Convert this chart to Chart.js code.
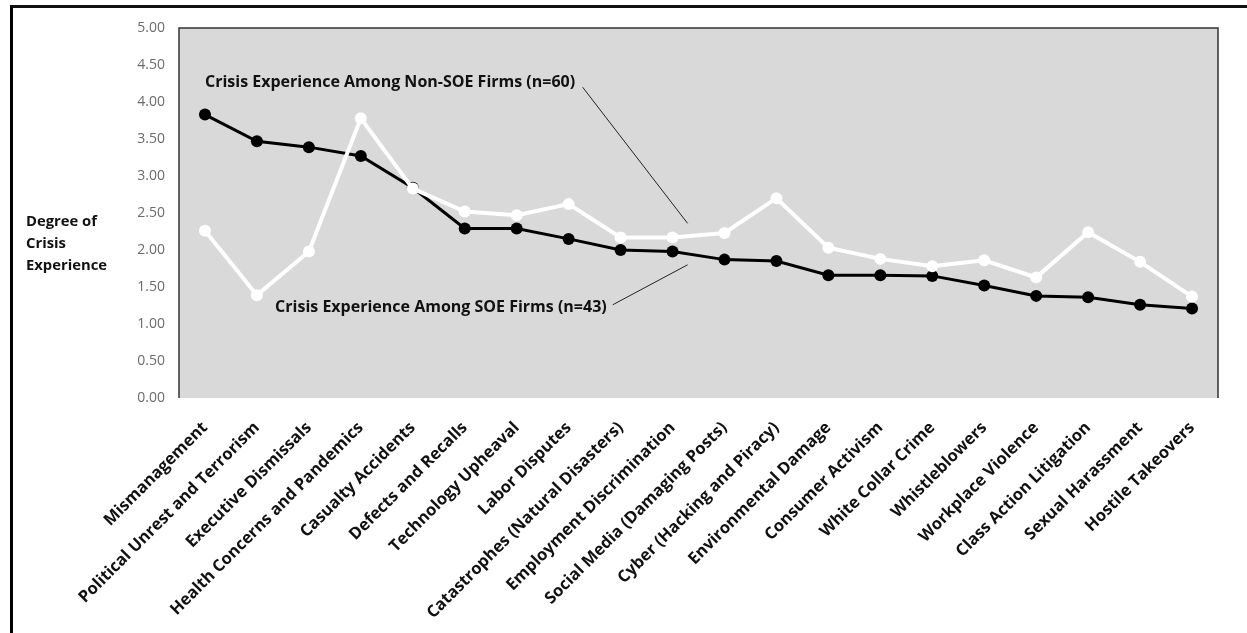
<!DOCTYPE html>
<html>
<head>
<meta charset="utf-8">
<script src="https://cdn.jsdelivr.net/npm/chart.js@4/dist/chart.umd.min.js"></script>
<style>
  html, body { margin: 0; padding: 0; background: #fff; }
  #wrap { position: relative; width: 1247px; height: 633px; overflow: hidden; }
  #frame { position: absolute; left: 10px; top: 5px; width: 1300px; height: 700px;
           border-left: 3px solid #000; border-top: 3px solid #111; }
  #chart { position: absolute; left: 0; top: 0; }
</style>
</head>
<body>
<div id="wrap">
  <div id="frame"></div>
  <canvas id="chart" width="1247" height="633"></canvas>
</div>
<script>
// ---- data ----
const categories = [
  'Mismanagement', 'Political Unrest and Terrorism', 'Executive Dismissals',
  'Health Concerns and Pandemics', 'Casualty Accidents', 'Defects and Recalls',
  'Technology Upheaval', 'Labor Disputes', 'Catastrophes (Natural Disasters)',
  'Employment Discrimination', 'Social Media (Damaging Posts)', 'Cyber (Hacking and Piracy)',
  'Environmental Damage', 'Consumer Activism', 'White Collar Crime', 'Whistleblowers',
  'Workplace Violence', 'Class Action Litigation', 'Sexual Harassment', 'Hostile Takeovers'
];
const soeValues = [3.83, 3.47, 3.39, 3.27, 2.84, 2.29, 2.29, 2.15, 2.00, 1.98,
                   1.87, 1.85, 1.66, 1.66, 1.65, 1.52, 1.38, 1.36, 1.26, 1.21];
const nonSoeValues = [2.26, 1.39, 1.98, 3.78, 2.83, 2.52, 2.47, 2.62, 2.17, 2.17,
                      2.23, 2.70, 2.03, 1.88, 1.78, 1.86, 1.63, 2.24, 1.84, 1.37];
const yTicks = [0, 0.5, 1, 1.5, 2, 2.5, 3, 3.5, 4, 4.5, 5];
const yTitleLines = ['Degree of', 'Crisis', 'Experience'];

// callout labels, placed in data units (category index, value)
const notes = [
  { text: 'Crisis Experience Among Non-SOE Firms (n=60)', at: [0, 4.26], from: [7.27, 4.20], to: [9.29, 2.36] },
  { text: 'Crisis Experience Among SOE Firms (n=43)', at: [1.35, 1.23], from: [7.85, 1.26], to: [9.29, 1.80] }
];

const FONT = '"Open Sans", "Liberation Sans", sans-serif';

// grey plot area + frame, drawn under the lines
const plotBg = {
  id: 'plotBg',
  beforeDatasetsDraw(chart) {
    const { ctx, chartArea: a } = chart;
    ctx.save();
    ctx.fillStyle = '#d9d9d9';
    ctx.fillRect(a.left, a.top, a.right - a.left, a.bottom - a.top);
    ctx.strokeStyle = '#333';
    ctx.lineWidth = 1.5;
    ctx.beginPath();
    ctx.moveTo(a.left, a.bottom);
    ctx.lineTo(a.left, a.top);
    ctx.lineTo(a.right, a.top);
    ctx.lineTo(a.right, a.bottom);
    ctx.stroke();
    ctx.restore();
  }
};

// callouts and the horizontal y title
const callouts = {
  id: 'callouts',
  afterDraw(chart) {
    const { ctx } = chart;
    const x = chart.scales.x, y = chart.scales.y;
    const px = (p) => [x.getPixelForValue(p[0]), y.getPixelForValue(p[1])];
    ctx.save();
    ctx.fillStyle = '#111';
    ctx.font = 'bold 16px ' + FONT;
    ctx.textBaseline = 'middle';
    ctx.textAlign = 'left';
    notes.forEach((n) => {
      const [tx, ty] = px(n.at);
      ctx.fillText(n.text, tx, ty);
      const [x1, y1] = px(n.from);
      const [x2, y2] = px(n.to);
      ctx.strokeStyle = '#222';
      ctx.lineWidth = 1;
      ctx.beginPath();
      ctx.moveTo(x1, y1);
      ctx.lineTo(x2, y2);
      ctx.stroke();
    });
    ctx.font = 'bold 14.8px ' + FONT;
    yTitleLines.forEach((t, i) => ctx.fillText(t, 26, 222 + i * 22));
    ctx.restore();
  }
};

new Chart(document.getElementById('chart'), {
  type: 'line',
  data: {
    labels: categories,
    datasets: [
      {
        label: 'Non-SOE Firms',
        data: nonSoeValues,
        borderColor: '#ffffff',
        backgroundColor: '#ffffff',
        borderWidth: 4,
        pointRadius: 6,
        pointBorderWidth: 0,
        tension: 0,
      },
      {
        label: 'SOE Firms',
        data: soeValues,
        borderColor: '#000000',
        backgroundColor: '#000000',
        borderWidth: 3,
        pointRadius: 6,
        pointBorderWidth: 0,
        tension: 0,
      },
    ],
  },
  options: {
    responsive: false,
    animation: false,
    layout: { padding: { left: 0, right: 29, top: 28, bottom: 0 } },
    plugins: { legend: { display: false }, tooltip: { enabled: false } },
    scales: {
      x: {
        offset: true,
        grid: { display: false, drawTicks: false },
        border: { display: false },
        afterFit: (s) => { s.height = 235; },
        ticks: {
          autoSkip: false,
          maxRotation: 45,
          minRotation: 45,
          padding: 20,
          color: '#111',
          font: { family: FONT, size: 16.5, weight: 'bold' },
        },
      },
      y: {
        min: 0,
        max: 5,
        grid: { display: false, drawTicks: false },
        border: { display: false },
        afterFit: (s) => { s.width = 179; },
        afterBuildTicks: (s) => { s.ticks = yTicks.map((v) => ({ value: v })); },
        ticks: {
          padding: 14,
          color: '#6b6b6b',
          font: { family: FONT, size: 14 },
          callback: (v) => Number(v).toFixed(2),
        },
      },
    },
  },
  plugins: [plotBg, callouts],
});
</script>
</body>
</html>
